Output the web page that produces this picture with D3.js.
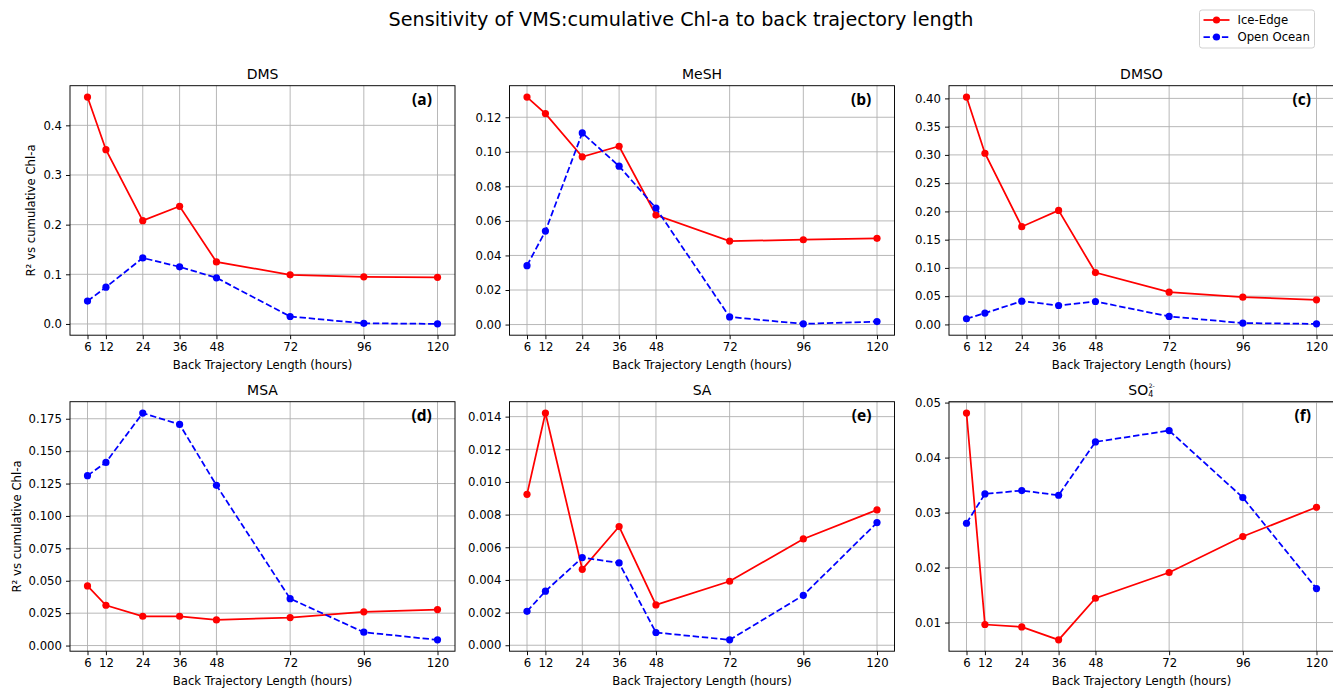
<!DOCTYPE html>
<html>
<head>
<meta charset="utf-8">
<script src="https://cdn.jsdelivr.net/npm/d3@7"></script>
<style>
  html, body { margin: 0; padding: 0; background: #fff; }
  svg { display: block; font-family: "DejaVu Sans", sans-serif; }
</style>
</head>
<body>
<svg id="chart" width="1333" height="688"></svg>
<script>
// ---------------- DATA ----------------
const hours = [6, 12, 24, 36, 48, 72, 96, 120];
const xTickLabels = [6, 12, 24, 36, 48, 72, 96, 120];

const seriesNames = ["Ice-Edge", "Open Ocean"];

const panelTitles = ["DMS", "MeSH", "DMSO", "MSA", "SA", "SO4"];
const panelLetters = ["(a)", "(b)", "(c)", "(d)", "(e)", "(f)"];

const iceEdge_DMS  = [0.457, 0.351, 0.208, 0.237, 0.125, 0.099, 0.095, 0.094];
const openOcean_DMS = [0.046, 0.074, 0.133, 0.115, 0.093, 0.015, 0.0013, 0.0002];

const iceEdge_MeSH  = [0.1317, 0.1221, 0.0971, 0.1032, 0.0634, 0.0483, 0.0491, 0.0499];
const openOcean_MeSH = [0.0341, 0.0541, 0.1109, 0.0917, 0.0674, 0.0044, 0.0004, 0.0017];

const iceEdge_DMSO  = [0.4024, 0.3029, 0.1729, 0.2018, 0.0918, 0.0571, 0.0482, 0.0435];
const openOcean_DMSO = [0.0100, 0.0200, 0.0412, 0.0335, 0.0406, 0.0141, 0.0024, 0.0010];

const iceEdge_MSA  = [0.0460, 0.0311, 0.0226, 0.0226, 0.0198, 0.0216, 0.0260, 0.0278];
const openOcean_MSA = [0.1311, 0.1413, 0.1794, 0.1706, 0.1236, 0.0362, 0.0103, 0.0044];

const iceEdge_SA  = [0.00924, 0.01422, 0.00465, 0.00727, 0.00247, 0.00392, 0.00651, 0.00829];
const openOcean_SA = [0.00208, 0.00331, 0.00537, 0.00504, 0.00078, 0.00033, 0.00306, 0.00751];

const iceEdge_SO4  = [0.0481, 0.00964, 0.00921, 0.00685, 0.01442, 0.0191, 0.02564, 0.03097];
const openOcean_SO4 = [0.02806, 0.03339, 0.0340, 0.03315, 0.04285, 0.04491, 0.03273, 0.01618];

// y tick labels per panel
const yTicks_DMS  = [0.0, 0.1, 0.2, 0.3, 0.4];
const yTicks_MeSH = [0.00, 0.02, 0.04, 0.06, 0.08, 0.10, 0.12];
const yTicks_DMSO = [0.00, 0.05, 0.10, 0.15, 0.20, 0.25, 0.30, 0.35, 0.40];
const yTicks_MSA  = [0.000, 0.025, 0.050, 0.075, 0.100, 0.125, 0.150, 0.175];
const yTicks_SA   = [0.000, 0.002, 0.004, 0.006, 0.008, 0.010, 0.012, 0.014];
const yTicks_SO4  = [0.01, 0.02, 0.03, 0.04, 0.05];
const yTickFormats = [".1f", ".2f", ".2f", ".3f", ".3f", ".2f"];

const panelData = [
  [iceEdge_DMS, openOcean_DMS, yTicks_DMS],
  [iceEdge_MeSH, openOcean_MeSH, yTicks_MeSH],
  [iceEdge_DMSO, openOcean_DMSO, yTicks_DMSO],
  [iceEdge_MSA, openOcean_MSA, yTicks_MSA],
  [iceEdge_SA, openOcean_SA, yTicks_SA],
  [iceEdge_SO4, openOcean_SO4, yTicks_SO4]
];

// ---------------- LAYOUT ----------------
const svg = d3.select("#chart");
const colLeft = [70, 509.5, 949];
const rowTop = [85.7, 401.7];
const W = 385, H = 249.5;
const colors = ["#ff0000", "#0000ff"];
const dashes = [null, "6.4,2.8"];
const tickFont = 11.7;

svg.append("text")
  .attr("x", 681).attr("y", 25.5)
  .attr("text-anchor", "middle")
  .attr("font-size", 19.2)
  .attr("fill", "#000")
  .text("Sensitivity of VMS:cumulative Chl-a to back trajectory length");

const xExt = d3.extent(hours);
const xPad = (xExt[1] - xExt[0]) * 0.05;

panelData.forEach((pd, i) => {
  const col = i % 3, row = Math.floor(i / 3);
  const left = colLeft[col], top = rowTop[row];
  const g = svg.append("g").attr("transform", `translate(${left},${top})`);

  const x = d3.scaleLinear().domain([xExt[0] - xPad, xExt[1] + xPad]).range([0, W]);
  const all = pd[0].concat(pd[1]);
  const yExt = d3.extent(all);
  const yPad = (yExt[1] - yExt[0]) * 0.05;
  const y = d3.scaleLinear().domain([yExt[0] - yPad, yExt[1] + yPad]).range([H, 0]);

  // grid
  const grid = g.append("g");
  grid.selectAll("line.gx").data(xTickLabels).join("line")
    .attr("x1", d => x(d)).attr("x2", d => x(d))
    .attr("y1", 0).attr("y2", H)
    .attr("stroke", "#b0b0b0").attr("stroke-width", 0.9);
  grid.selectAll("line.gy").data(pd[2]).join("line")
    .attr("y1", d => y(d)).attr("y2", d => y(d))
    .attr("x1", 0).attr("x2", W)
    .attr("stroke", "#b0b0b0").attr("stroke-width", 0.9);

  // clip
  const clipId = "clip" + i;
  g.append("clipPath").attr("id", clipId).append("rect")
    .attr("x", 0).attr("y", 0).attr("width", W).attr("height", H);

  const line = d3.line().x((d, j) => x(hours[j])).y(d => y(d));
  [0, 1].forEach(s => {
    const sg = g.append("g").attr("clip-path", `url(#${clipId})`);
    sg.append("path").datum(pd[s])
      .attr("d", line)
      .attr("fill", "none")
      .attr("stroke", colors[s])
      .attr("stroke-width", 1.75)
      .attr("stroke-dasharray", dashes[s]);
    sg.selectAll("circle").data(pd[s]).join("circle")
      .attr("cx", (d, j) => x(hours[j]))
      .attr("cy", d => y(d))
      .attr("r", 3.6)
      .attr("fill", colors[s]);
  });

  // axes
  const xAxis = g.append("g").attr("transform", `translate(0,${H})`)
    .call(d3.axisBottom(x).tickValues(xTickLabels).tickFormat(d3.format("d")).tickSize(4).tickPadding(4));
  const yAxis = g.append("g")
    .call(d3.axisLeft(y).tickValues(pd[2]).tickFormat(d3.format(yTickFormats[i])).tickSize(4).tickPadding(4));
  [xAxis, yAxis].forEach(a => {
    a.select(".domain").remove();
    a.selectAll("text").attr("font-size", tickFont).attr("font-family", "DejaVu Sans").attr("fill", "#000");
    a.selectAll("line").attr("stroke", "#000").attr("stroke-width", 0.95);
  });

  // spines
  g.append("rect").attr("x", 0).attr("y", 0).attr("width", W).attr("height", H)
    .attr("fill", "none").attr("stroke", "#000").attr("stroke-width", 0.95);

  // title
  const t = g.append("text")
    .attr("x", W / 2).attr("y", -7)
    .attr("text-anchor", "middle")
    .attr("font-size", 14)
    .attr("fill", "#000");
  if (panelTitles[i] === "SO4") {
    t.append("tspan").text("SO");
    t.append("tspan").attr("font-size", 8).attr("dy", 2.5).text("4");
    t.append("tspan").attr("font-size", 6).attr("dx", -4.5).attr("dy", -9).text("2-");
  } else {
    t.text(panelTitles[i]);
  }

  // panel letter
  g.append("text")
    .attr("x", W * 0.94).attr("y", 19.5)
    .attr("text-anchor", "end")
    .attr("font-family", "'Open Sans', 'Noto Sans', sans-serif")
    .attr("font-weight", "bold")
    .attr("font-size", 15.5)
    .attr("fill", "#000")
    .text(panelLetters[i]);

  // x label
  g.append("text")
    .attr("x", W / 2).attr("y", H + 33.5)
    .attr("text-anchor", "middle")
    .attr("font-size", tickFont)
    .attr("fill", "#000")
    .text("Back Trajectory Length (hours)");

  // y label on left column
  if (col === 0) {
    const bb = yAxis.node().getBBox();
    const lx = bb.x - 4.5 - 3.5;
    g.append("text")
      .attr("transform", `translate(${lx},${H / 2}) rotate(-90)`)
      .attr("text-anchor", "middle")
      .attr("font-size", tickFont)
      .attr("fill", "#000")
      .text("R² vs cumulative Chl-a");
  }
});

// ---------------- LEGEND ----------------
const lg = svg.append("g").attr("transform", "translate(1199.5,10)");
lg.append("rect").attr("x", 0).attr("y", 0).attr("width", 115).attr("height", 38)
  .attr("rx", 2.5).attr("fill", "#fff").attr("fill-opacity", 0.8)
  .attr("stroke", "#cccccc").attr("stroke-width", 0.9);
seriesNames.forEach((name, s) => {
  const yy = 10 + s * 17;
  lg.append("line").attr("x1", 4).attr("x2", 30).attr("y1", yy).attr("y2", yy)
    .attr("stroke", colors[s]).attr("stroke-width", 1.75).attr("stroke-dasharray", dashes[s]);
  lg.append("circle").attr("cx", 17).attr("cy", yy).attr("r", 3.6).attr("fill", colors[s]);
  lg.append("text").attr("x", 38).attr("y", yy + 4.2)
    .attr("font-size", 11.7).attr("fill", "#000").text(name);
});
</script>
</body>
</html>
